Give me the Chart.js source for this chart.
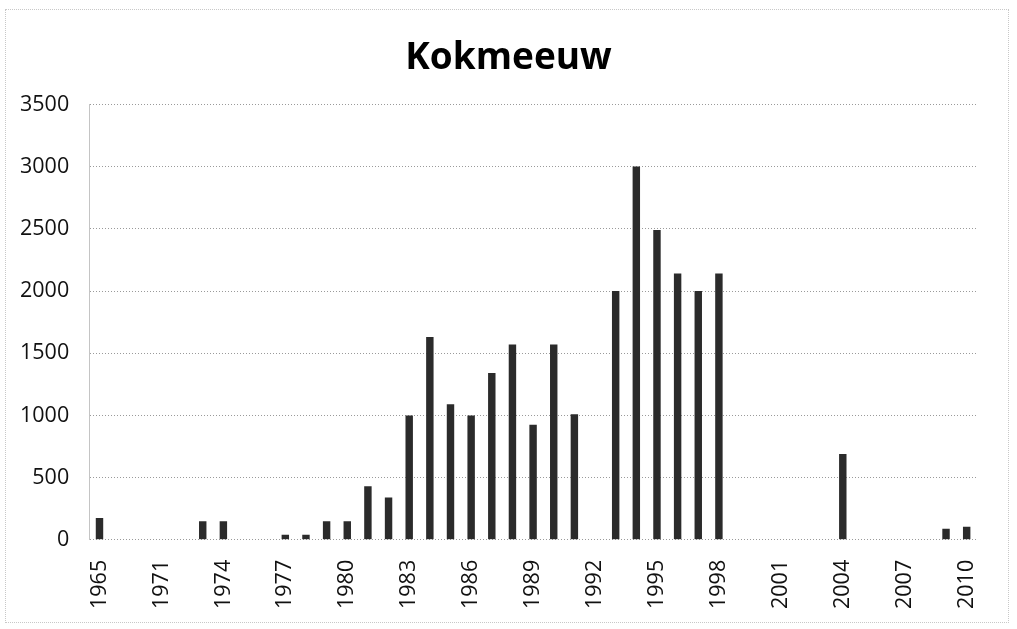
<!DOCTYPE html>
<html lang="nl">
<head>
    <meta charset="UTF-8">
    <title>Kokmeeuw</title>
    <script src="https://cdn.jsdelivr.net/npm/chart.js"></script>
    <style>
        html, body { margin: 0; padding: 0; background: #fff; }
        #wrap { position: relative; width: 1017px; height: 629px; }
        #frame { position: absolute; left: 5px; top: 9px; width: 1002px; height: 612px; border: 1px dotted #c8c8c8; pointer-events: none; }
    </style>
</head>
<body>
    <div id="wrap">
        <canvas id="chart" width="1017" height="629"></canvas>
        <div id="frame"></div>
    </div>

    <script>
        // jaren (1965 en twee vroege teljaren, daarna doorlopend 1971-2010)
        const years = ['1965', '1968', '1970',
            '1971', '1972', '1973', '1974', '1975', '1976', '1977', '1978', '1979', '1980',
            '1981', '1982', '1983', '1984', '1985', '1986', '1987', '1988', '1989', '1990',
            '1991', '1992', '1993', '1994', '1995', '1996', '1997', '1998', '1999', '2000',
            '2001', '2002', '2003', '2004', '2005', '2006', '2007', '2008', '2009', '2010'];

        // aantal broedparen
        const pairs = [175, null, null,
            null, null, 150, 150, null, null, 40, 40, 150, 150,
            430, 340, 1000, 1630, 1090, 1000, 1340, 1570, 925, 1570,
            1010, null, 2000, 3000, 2490, 2140, 2000, 2140, null, null,
            null, null, null, 690, null, null, null, null, 90, 105];

        const yTicks = [0, 500, 1000, 1500, 2000, 2500, 3000, 3500];

        new Chart(document.getElementById('chart'), {
            type: 'bar',
            data: {
                labels: years,
                datasets: [{
                    label: 'Kokmeeuw',
                    data: pairs,
                    backgroundColor: '#2b2b2b',
                    borderWidth: 0,
                    barPercentage: 0.36,
                    categoryPercentage: 1.0
                }]
            },
            options: {
                responsive: false,
                animation: false,
                layout: { padding: { left: 0, right: 0, top: 0, bottom: 0 } },
                plugins: {
                    legend: { display: false },
                    tooltip: { enabled: false },
                    title: {
                        display: true,
                        text: 'Kokmeeuw',
                        color: '#000',
                        font: { family: 'Open Sans', size: 37, weight: 'bold' },
                        padding: { top: 36, bottom: 24 }
                    }
                },
                scales: {
                    x: {
                        grid: { display: false, drawTicks: false },
                        border: { display: false },
                        ticks: {
                            autoSkip: false,
                            maxRotation: 90,
                            minRotation: 90,
                            padding: 20,
                            color: '#111',
                            font: { family: 'Open Sans', size: 21.5 },
                            callback: function (value, index) {
                                return index % 3 === 0 ? years[index] : '';
                            }
                        }
                    },
                    y: {
                        min: 0,
                        max: 3500,
                        afterBuildTicks: function (axis) {
                            axis.ticks = yTicks.map(v => ({ value: v }));
                        },
                        grid: {
                            color: '#9a9a9a',
                            lineWidth: 1,
                            drawTicks: false
                        },
                        border: { display: true, color: '#c4c4c4', dash: [1, 2] },
                        ticks: {
                            padding: 20,
                            color: '#111',
                            font: { family: 'Open Sans', size: 21.5 },
                            callback: function (value) {
                                return String(value);
                            }
                        }
                    },
                    // lege marge rechts, zodat de titel midden boven het hele beeld staat
                    rightGap: {
                        type: 'linear',
                        position: 'right',
                        grid: { display: false, drawTicks: false },
                        border: { display: false },
                        ticks: { display: false },
                        afterFit: function (axis) {
                            axis.width = 40;
                        }
                    }
                }
            }
        });
    </script>
</body>
</html>
